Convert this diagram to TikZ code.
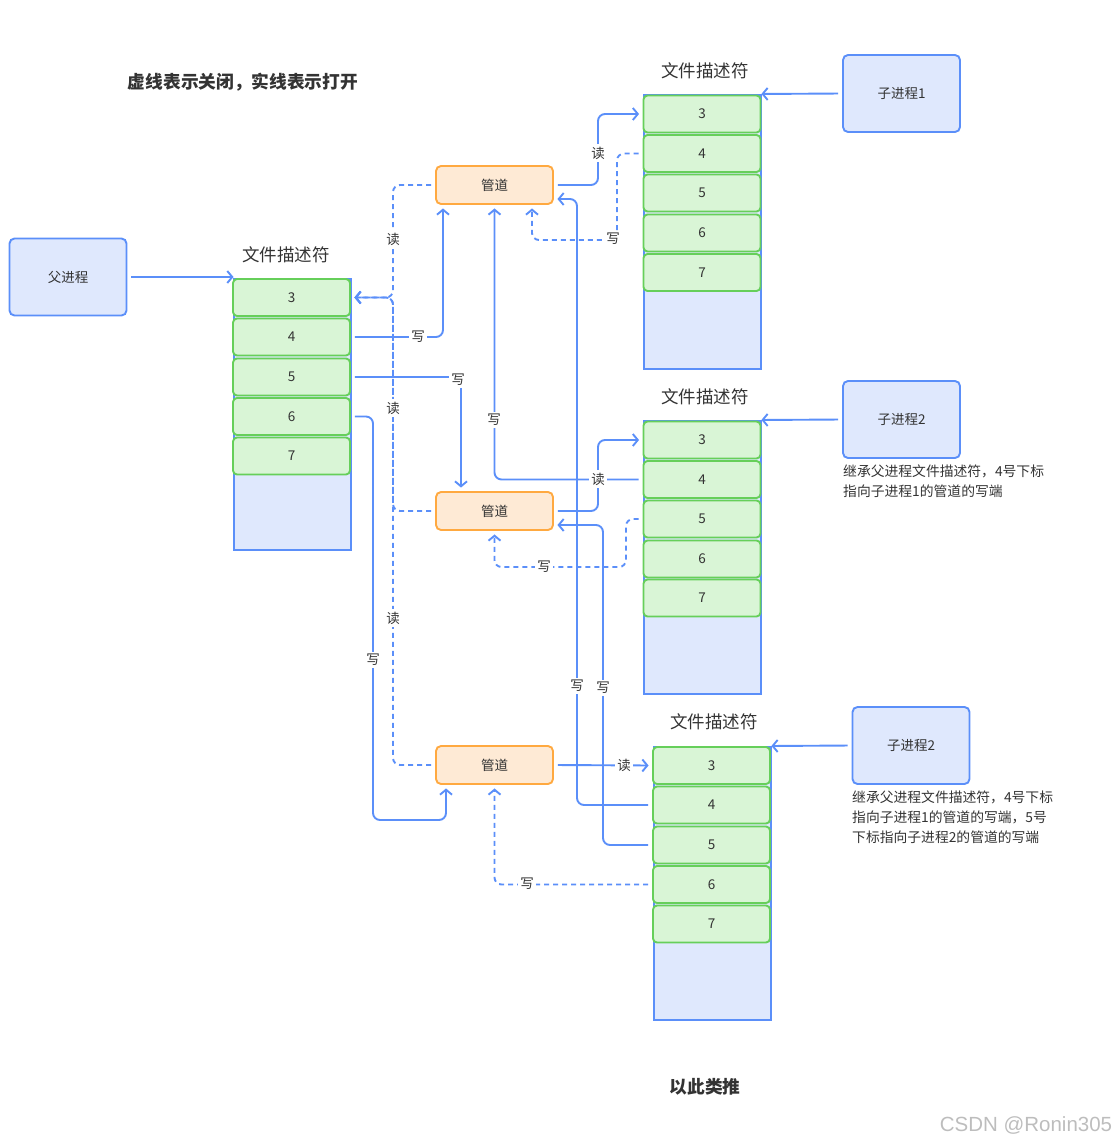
\documentclass[tikz,border=0pt]{standalone}
\usepackage{fontspec}
\setmainfont{Noto Sans CJK SC}
\newfontfamily\wmfont{Liberation Sans}
\usetikzlibrary{arrows.meta}
\definecolor{bl}{HTML}{5B8FF9}
\definecolor{blfill}{HTML}{DFE8FD}
\definecolor{gr}{HTML}{66CF5A}
\definecolor{grfill}{HTML}{D9F5D6}
\definecolor{orl}{HTML}{FFA940}
\definecolor{orfill}{HTML}{FEEAD5}
\definecolor{txt}{HTML}{333333}
\definecolor{wm}{HTML}{BDBDBD}
\begin{document}
\begin{tikzpicture}[x=1pt,y=-1pt,
  txtsz/.style={font=\fontsize{13.5}{15}\selectfont, text=txt},
  proc/.style={draw=bl, fill=blfill, rounded corners=5pt, line width=1.9pt, minimum width=117pt, minimum height=77pt, txtsz},
  colbox/.style={draw=bl, fill=blfill, line width=1.9pt, minimum width=117pt, inner sep=0pt, anchor=north west},
  cell/.style={draw=gr, fill=grfill, rounded corners=4pt, line width=1.9pt, minimum width=117pt, minimum height=37pt, inner sep=0pt, txtsz},
  pipe/.style={draw=orl, fill=orfill, rounded corners=5pt, line width=1.9pt, minimum width=117pt, minimum height=38pt, inner sep=0pt, txtsz},
  conn/.style={draw=bl, line width=1.9pt, rounded corners=7pt, shorten <=4pt},
  arr/.style={-{Straight Barb[length=5pt,width=12pt,line width=1.9pt]}, shorten >=3.5pt},
  dsh/.style={dash pattern=on 5pt off 4pt},
  lab/.style={fill=white, inner sep=2.5pt, txtsz},
  ttl/.style={font=\fontsize{17.5}{20}\selectfont, text=txt},
  bold/.style={font=\fontsize{17.7}{20}\selectfont\bfseries, text=txt},
  note/.style={anchor=north west, align=left, inner sep=0pt, font=\fontsize{13.8}{20}\selectfont, text=txt}
]
\useasboundingbox (0,0) rectangle (1118,1145);

% title
\node[bold] (title) at (243,82) {虚线表示关闭，实线表示打开};
\node[bold] (etc) at (705,1087) {以此类推};
\node[text=wm, font=\wmfont\fontsize{20.5}{22}\selectfont] (wmark) at (1026,1125) {CSDN @Ronin305};

% parent
\node[proc] (par) at (68,277) {父进程};
\node[ttl] (lab1) at (286,255) {文件描述符};
\node[colbox, minimum height=271pt] (T1) at (233,278) {};
\node[cell] (a3) at (291.5,297.5) {3};
\node[cell] (a4) at (291.5,337) {4};
\node[cell] (a5) at (291.5,377) {5};
\node[cell] (a6) at (291.5,416.5) {6};
\node[cell] (a7) at (291.5,456) {7};

% child 1
\node[proc] (ch1) at (901.5,93.5) {子进程1};
\node[ttl] (lab2) at (705,71) {文件描述符};
\node[colbox, minimum height=274pt] (T2) at (643,94) {};
\node[cell] (b3) at (702,114) {3};
\node[cell] (b4) at (702,153.5) {4};
\node[cell] (b5) at (702,193) {5};
\node[cell] (b6) at (702,233) {6};
\node[cell] (b7) at (702,272.5) {7};

% child 2
\node[proc] (ch2) at (901.5,419.5) {子进程2};
\node[note] (n2) at (843,465) {继承父进程文件描述符，4号下标\\指向子进程1的管道的写端};
\node[ttl] (lab3) at (705,397) {文件描述符};
\node[colbox, minimum height=273pt] (T3) at (643,420) {};
\node[cell] (c3) at (702,440) {3};
\node[cell] (c4) at (702,479.5) {4};
\node[cell] (c5) at (702,519) {5};
\node[cell] (c6) at (702,559) {6};
\node[cell] (c7) at (702,598) {7};

% child 3
\node[proc] (ch3) at (911,745.5) {子进程2};
\node[note] (n3) at (852,791) {继承父进程文件描述符，4号下标\\指向子进程1的管道的写端，5号\\下标指向子进程2的管道的写端};
\node[ttl] (lab4) at (714,722) {文件描述符};
\node[colbox, minimum height=273pt] (T4) at (653,746) {};
\node[cell] (d3) at (711.5,765.5) {3};
\node[cell] (d4) at (711.5,805) {4};
\node[cell] (d5) at (711.5,845) {5};
\node[cell] (d6) at (711.5,884.5) {6};
\node[cell] (d7) at (711.5,924) {7};

% pipes
\node[pipe] (P1) at (494.5,185) {管道};
\node[pipe] (P2) at (494.5,511) {管道};
\node[pipe] (P3) at (494.5,765) {管道};

% process -> table arrows
\draw[conn,arr] (par.east) -- ([xshift=4pt]par.east -| T1.west);
\draw[conn,arr] (ch1.west) -- ([xshift=-4pt]T2.north east);
\draw[conn,arr] (ch2.west) -- ([xshift=-4pt]T3.north east);
\draw[conn,arr] (ch3.west) -- ([xshift=-4pt]T4.north east);

% dashed reads to parent fd 3
\draw[conn,arr,dsh] (P1.west) -- (393,185) -- (393,297.5) -- (a3.east);
\draw[conn,arr,dsh] (P2.west) -- (393,511) -- (393,297.5) -- (a3.east);
\draw[conn,arr,dsh] (P3.west) -- (393,765) -- (393,297.5) -- (a3.east);

% parent writes
\draw[conn,arr] (a4.east) -- (443,337) -- ([xshift=-51.5pt]P1.south);
\draw[conn,arr] (a5.east) -- (461,377) -- ([xshift=-33.5pt]P2.north);
\draw[conn,arr] (a6.east) -- (373,416.5) -- (373,820) -- (446,820) -- ([xshift=-48.5pt]P3.south);

% pipe 1
\draw[conn,arr] (P1.east) -- (598,185) -- (598,114) -- (b3.west);
\draw[conn,arr,dsh] (b4.west) -- (617,153.5) -- (617,240) -- (532,240) -- ([xshift=37.5pt]P1.south);
\draw[conn,arr] (c4.west) -- (494.5,479.5) -- (P1.south);
\draw[conn,arr] (d4.west) -- (577,805) -- (577,199) -- ([yshift=-14pt]P1.east);

% pipe 2
\draw[conn,arr] (P2.east) -- (598,511) -- (598,440) -- (c3.west);
\draw[conn,arr,dsh] (c5.west) -- (626,519) -- (626,567) -- (494.5,567) -- (P2.south);
\draw[conn,arr] (d5.west) -- (603,845) -- (603,525) -- ([yshift=-14pt]P2.east);

% pipe 3
\draw[conn,arr] (P3.east) -- (d3.west);
\draw[conn,arr,dsh] (d6.west) -- (494.5,884.5) -- (P3.south);

% labels
\node[lab] at (393,239) {读};
\node[lab] at (393,408) {读};
\node[lab] at (393,618) {读};
\node[lab] at (418,337) {写};
\node[lab] at (458,380) {写};
\node[lab] at (373,660) {写};
\node[lab] at (598,153) {读};
\node[lab] at (613,239) {写};
\node[lab] at (494,420) {写};
\node[lab] at (577,686) {写};
\node[lab] at (598,479) {读};
\node[lab] at (544,567) {写};
\node[lab] at (603,688) {写};
\node[lab] at (624,765) {读};
\node[lab] at (527,884) {写};
\end{tikzpicture}
\end{document}
